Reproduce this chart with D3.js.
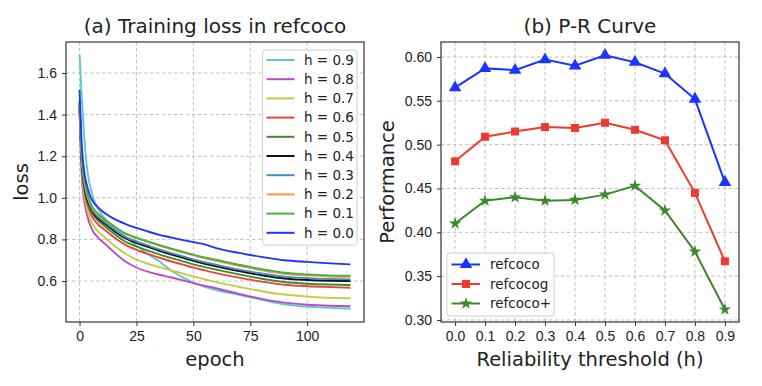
<!DOCTYPE html>
<html>
<head>
<meta charset="utf-8">
<script src="https://cdn.jsdelivr.net/npm/d3@7"></script>
<style>
  body { margin: 0; background: #fff; }
  svg { display: block; font-family: "DejaVu Sans", sans-serif; }
  .grid line { stroke: #b9b9b9; stroke-width: 0.9; stroke-dasharray: 3.5,2.5; }
  .axis text { font-size: 14px; fill: #222; }
  .axis line { stroke: #333; }
  .axis path { display: none; }
</style>
</head>
<body>
<svg id="chart" width="762" height="386"></svg>
<script>
// ---- data: training loss (left) ----
var epochs = [0, 1, 2, 3, 4, 5, 6, 8, 10, 12, 15, 20, 25, 30, 35, 40, 45, 50, 55, 60, 70, 80, 90, 100, 110, 119]
var h09 = [1.69, 1.48, 1.30, 1.17, 1.09, 1.04, 1.00, 0.95, 0.915, 0.89, 0.86, 0.815, 0.77, 0.73, 0.695, 0.652, 0.62, 0.592, 0.572, 0.557, 0.534, 0.51, 0.488, 0.477, 0.471, 0.467]
var h08 = [1.43, 1.10, 0.99, 0.93, 0.89, 0.86, 0.838, 0.81, 0.79, 0.77, 0.74, 0.695, 0.665, 0.645, 0.63, 0.618, 0.604, 0.59, 0.577, 0.565, 0.538, 0.514, 0.496, 0.486, 0.481, 0.479]
var h07 = [1.45, 1.12, 1.02, 0.96, 0.92, 0.89, 0.868, 0.84, 0.82, 0.80, 0.772, 0.732, 0.703, 0.683, 0.667, 0.652, 0.637, 0.622, 0.608, 0.595, 0.572, 0.551, 0.535, 0.525, 0.519, 0.517]
var h06 = [1.42, 1.14, 1.04, 0.985, 0.95, 0.922, 0.90, 0.874, 0.855, 0.838, 0.812, 0.775, 0.75, 0.73, 0.712, 0.695, 0.68, 0.664, 0.651, 0.638, 0.616, 0.597, 0.582, 0.575, 0.571, 0.568]
var h05 = [1.44, 1.16, 1.06, 1.00, 0.965, 0.938, 0.918, 0.892, 0.873, 0.855, 0.828, 0.79, 0.766, 0.746, 0.728, 0.711, 0.696, 0.68, 0.667, 0.655, 0.632, 0.611, 0.595, 0.587, 0.583, 0.581]
var h04 = [1.46, 1.17, 1.07, 1.01, 0.975, 0.948, 0.928, 0.902, 0.885, 0.868, 0.842, 0.806, 0.783, 0.764, 0.745, 0.728, 0.713, 0.697, 0.683, 0.671, 0.648, 0.628, 0.612, 0.605, 0.601, 0.60]
var h03 = [1.45, 1.18, 1.08, 1.02, 0.985, 0.955, 0.935, 0.91, 0.892, 0.875, 0.85, 0.812, 0.79, 0.771, 0.752, 0.735, 0.72, 0.704, 0.69, 0.678, 0.655, 0.636, 0.621, 0.614, 0.61, 0.608]
var h02 = [1.46, 1.19, 1.09, 1.03, 0.99, 0.965, 0.945, 0.92, 0.902, 0.885, 0.862, 0.828, 0.806, 0.788, 0.77, 0.754, 0.738, 0.723, 0.709, 0.697, 0.673, 0.652, 0.635, 0.627, 0.622, 0.62]
var h01 = [1.47, 1.20, 1.10, 1.04, 1.00, 0.97, 0.95, 0.925, 0.905, 0.888, 0.865, 0.83, 0.808, 0.79, 0.773, 0.757, 0.742, 0.727, 0.713, 0.702, 0.678, 0.657, 0.64, 0.632, 0.627, 0.625]
var h00 = [1.52, 1.25, 1.13, 1.07, 1.03, 1.00, 0.98, 0.955, 0.935, 0.92, 0.90, 0.875, 0.855, 0.838, 0.822, 0.81, 0.798, 0.787, 0.776, 0.758, 0.735, 0.716, 0.70, 0.692, 0.685, 0.68]
var lossNames = ['h = 0.9', 'h = 0.8', 'h = 0.7', 'h = 0.6', 'h = 0.5', 'h = 0.4', 'h = 0.3', 'h = 0.2', 'h = 0.1', 'h = 0.0']
var lossColors = ['#5cc8c8', '#b84cc4', '#c9c840', '#e8463c', '#3d8b2e', '#111111', '#4a88c0', '#f59642', '#4caf46', '#1f35ff']
var lossSeries = [h09, h08, h07, h06, h05, h04, h03, h02, h01, h00]
var lossXTicks = [0, 25, 50, 75, 100]
var lossYTicks = [0.6, 0.8, 1.0, 1.2, 1.4, 1.6]

// ---- data: P-R curve (right) ----
var thresholds = [0.0, 0.1, 0.2, 0.3, 0.4, 0.5, 0.6, 0.7, 0.8, 0.9]
var refcoco = [0.565, 0.587, 0.585, 0.597, 0.590, 0.602, 0.594, 0.581, 0.552, 0.457]
var refcocog = [0.481, 0.509, 0.515, 0.520, 0.519, 0.525, 0.517, 0.505, 0.445, 0.367]
var refcocoPlus = [0.410, 0.436, 0.440, 0.436, 0.437, 0.443, 0.453, 0.425, 0.378, 0.312]
var prNames = ['refcoco', 'refcocog', 'refcoco+']
var prColors = ['#1a35ff', '#ee3a2e', '#3a8a2c']
var prSymbols = [d3.symbolTriangle, d3.symbolSquare, d3.symbolStar]
var prSizes = [68, 64, 48]
var prSeries = [refcoco, refcocog, refcocoPlus]
var prYTicks = [0.30, 0.35, 0.40, 0.45, 0.50, 0.55, 0.60]

var svg = d3.select('#chart')
svg.append('rect').attr('width', 762).attr('height', 386).attr('fill', '#fff')

function frame(g, w, h) {
  g.append('rect').attr('width', w).attr('height', h)
    .attr('fill', 'none').attr('stroke', '#333').attr('stroke-width', 1.2)
}

// ================= left panel =================
var L = { left: 66, top: 42, width: 298, height: 280 }
var gL = svg.append('g').attr('transform', 'translate(' + L.left + ',' + L.top + ')')

var xL = d3.scaleLinear().domain([-5.95, 124.95]).range([0, L.width])
var yL = d3.scaleLinear().domain([0.403, 1.749]).range([L.height, 0])

gL.append('g').attr('class', 'grid')
  .selectAll('line.v').data(lossXTicks).enter().append('line')
  .attr('x1', d => xL(d)).attr('x2', d => xL(d)).attr('y1', 0).attr('y2', L.height)
gL.select('.grid')
  .selectAll('line.h').data(lossYTicks).enter().append('line')
  .attr('x1', 0).attr('x2', L.width).attr('y1', d => yL(d)).attr('y2', d => yL(d))

gL.append('g').attr('class', 'axis')
  .attr('transform', 'translate(0,' + L.height + ')')
  .call(d3.axisBottom(xL).tickValues(lossXTicks).tickSize(4).tickPadding(5).tickFormat(d3.format('d')))
gL.append('g').attr('class', 'axis')
  .call(d3.axisLeft(yL).tickValues(lossYTicks).tickSize(4).tickPadding(5).tickFormat(d3.format('.1f')))

var lineL = d3.line().x((d, i) => xL(epochs[i])).y(d => yL(d)).curve(d3.curveMonotoneX)
gL.append('g').selectAll('path').data(lossSeries).enter().append('path')
  .attr('d', lineL)
  .attr('fill', 'none')
  .attr('stroke', (d, i) => lossColors[i])
  .attr('stroke-width', 1.9)

frame(gL, L.width, L.height)

// legend (left)
var legL = gL.append('g').attr('transform', 'translate(' + (262.5 - L.left) + ',' + (50 - L.top) + ')')
legL.append('rect').attr('width', 94.5).attr('height', 195).attr('rx', 3)
  .attr('fill', 'rgba(255,255,255,0.85)').attr('stroke', '#d0d0d0')
var itemL = legL.selectAll('g').data(lossNames).enter().append('g')
  .attr('transform', (d, i) => 'translate(0,' + (10 + i * 19.2) + ')')
itemL.append('line').attr('x1', 4).attr('x2', 32)
  .attr('stroke', (d, i) => lossColors[i]).attr('stroke-width', 2)
itemL.append('text').attr('x', 41.5).attr('dy', '0.36em')
  .style('font-size', '13.5px').attr('fill', '#222').text(d => d)

svg.append('text').attr('x', L.left + L.width / 2).attr('y', 33)
  .attr('text-anchor', 'middle').style('font-size', '20px').attr('fill', '#222')
  .text('(a) Training loss in refcoco')
svg.append('text').attr('x', L.left + L.width / 2).attr('y', 366)
  .attr('text-anchor', 'middle').style('font-size', '19.5px').attr('fill', '#222')
  .text('epoch')
svg.append('text').attr('transform', 'translate(28,' + (L.top + L.height / 2) + ') rotate(-90)')
  .attr('text-anchor', 'middle').style('font-size', '19.5px').attr('fill', '#222')
  .text('loss')

// ================= right panel =================
var R = { left: 441, top: 42, width: 298, height: 280 }
var gR = svg.append('g').attr('transform', 'translate(' + R.left + ',' + R.top + ')')

var xR = d3.scaleLinear().domain([-0.047, 0.947]).range([0, R.width])
var yR = d3.scaleLinear().domain([0.2977, 0.6171]).range([R.height, 0])

var gridR = gR.append('g').attr('class', 'grid')
gridR.selectAll('line.v').data(thresholds).enter().append('line')
  .attr('x1', d => xR(d)).attr('x2', d => xR(d)).attr('y1', 0).attr('y2', R.height)
gridR.selectAll('line.h').data(prYTicks).enter().append('line')
  .attr('x1', 0).attr('x2', R.width).attr('y1', d => yR(d)).attr('y2', d => yR(d))

gR.append('g').attr('class', 'axis')
  .attr('transform', 'translate(0,' + R.height + ')')
  .call(d3.axisBottom(xR).tickValues(thresholds).tickSize(4).tickPadding(5).tickFormat(d3.format('.1f')))
gR.append('g').attr('class', 'axis')
  .call(d3.axisLeft(yR).tickValues(prYTicks).tickSize(4).tickPadding(5).tickFormat(d3.format('.2f')))

var lineR = d3.line().x((d, i) => xR(thresholds[i])).y(d => yR(d))
prSeries.forEach(function (s, k) {
  gR.append('path').datum(s).attr('d', lineR)
    .attr('fill', 'none').attr('stroke', prColors[k]).attr('stroke-width', 2)
  gR.append('g').selectAll('path').data(s).enter().append('path')
    .attr('transform', (d, i) => 'translate(' + xR(thresholds[i]) + ',' + yR(d) + ')')
    .attr('d', d3.symbol().type(prSymbols[k]).size(prSizes[k]))
    .attr('fill', prColors[k])
})

frame(gR, R.width, R.height)

// legend (right)
var legR = gR.append('g').attr('transform', 'translate(' + (447 - R.left) + ',' + (253 - R.top) + ')')
legR.append('rect').attr('width', 107).attr('height', 63).attr('rx', 3)
  .attr('fill', 'rgba(255,255,255,0.85)').attr('stroke', '#d0d0d0')
var itemR = legR.selectAll('g').data(prNames).enter().append('g')
  .attr('transform', (d, i) => 'translate(0,' + (11.5 + i * 19.5) + ')')
itemR.append('line').attr('x1', 4.5).attr('x2', 33)
  .attr('stroke', (d, i) => prColors[i]).attr('stroke-width', 2)
itemR.append('path').attr('transform', 'translate(19,0)')
  .attr('d', (d, i) => d3.symbol().type(prSymbols[i]).size(prSizes[i])())
  .attr('fill', (d, i) => prColors[i])
itemR.append('text').attr('x', 43).attr('dy', '0.36em')
  .style('font-size', '13.5px').attr('fill', '#222').text(d => d)

svg.append('text').attr('x', R.left + R.width / 2).attr('y', 33)
  .attr('text-anchor', 'middle').style('font-size', '20px').attr('fill', '#222')
  .text('(b) P-R Curve')
svg.append('text').attr('x', R.left + R.width / 2).attr('y', 366)
  .attr('text-anchor', 'middle').style('font-size', '19.5px').attr('fill', '#222')
  .text('Reliability threshold (h)')
svg.append('text').attr('transform', 'translate(394,' + (R.top + R.height / 2) + ') rotate(-90)')
  .attr('text-anchor', 'middle').style('font-size', '19.5px').attr('fill', '#222')
  .text('Performance')
</script>
</body>
</html>
